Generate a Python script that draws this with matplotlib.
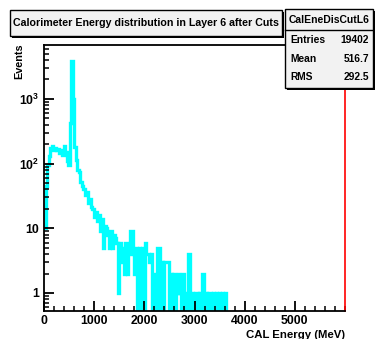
import numpy as np
import matplotlib
matplotlib.use("Agg")
import matplotlib.pyplot as plt
from matplotlib.patches import Rectangle
from matplotlib.ticker import FixedLocator, FuncFormatter, LogLocator, NullFormatter

plt.rcParams['font.family'] = ['Liberation Sans', 'DejaVu Sans']
plt.rcParams['font.weight'] = 'bold'
plt.rcParams['mathtext.fontset'] = 'custom'
plt.rcParams['mathtext.rm'] = 'Liberation Sans:bold'
plt.rcParams['mathtext.bf'] = 'Liberation Sans:bold'

# histogram: 200 bins of 30 MeV from 0 to 6000 MeV
bin_width = 30
counts = [
    10, 45, 95, 130, 175, 190, 165, 175, 160, 170,
    145, 165, 135, 190, 150, 110, 95, 420, 3800, 1000,
    180, 115, 80, 75, 52, 45, 40, 33, 36, 25,
    28, 21, 20, 15, 18, 13, 16, 9, 14, 5,
    11, 10, 8, 5, 9, 5, 8, 7, 6, 1,
    6, 3, 5, 2, 6, 2, 4, 9, 9, 4,
    2, 5, 0, 5, 0, 5, 0, 6, 4, 4,
    3, 4, 0, 2, 0, 5, 5, 0, 3, 0,
    3, 3, 3, 0, 2, 0, 2, 0, 1, 2,
    1, 0, 2, 0, 1, 0, 4, 0, 1, 0,
    1, 1, 0, 1, 0, 2, 0, 1, 0, 1,
    1, 0, 1, 0, 1, 0, 1, 0, 1, 0,
    1, 0,
]
n_bins = 200
counts = counts + [0] * (n_bins - len(counts))

hist_name = "CalEneDisCutL6"
title = "Calorimeter Energy distribution in Layer 6 after Cuts"
stats = [("Entries", "19402"), ("Mean", "516.7"), ("RMS", "292.5")]

W, H = 375, 339
fig = plt.figure(figsize=(W / 100, H / 100), dpi=100)
fig.patch.set_facecolor('white')


def fx(px):
    return px / W


def fy(py):
    return 1 - py / H


ax = fig.add_axes([fx(44), fy(311), fx(345) - fx(44), fy(45) - fy(311)])
ymin, ymax = 0.527, 6800
edges = np.arange(n_bins + 1) * bin_width
vals = np.array(counts, dtype=float)
vals = np.where(vals > 0, vals, ymin * 0.5)
ax.stairs(vals, edges, color='#00ffff', linewidth=2.4, baseline=None)
ax.set_yscale('log')
ax.set_xlim(0, 6000)
ax.set_ylim(ymin, ymax)

ax.xaxis.set_major_locator(FixedLocator([0, 1000, 2000, 3000, 4000, 5000]))
ax.xaxis.set_minor_locator(FixedLocator(np.arange(0, 6001, 200)))
ax.yaxis.set_major_locator(FixedLocator([1, 10, 100, 1000]))
ax.yaxis.set_minor_locator(LogLocator(base=10, subs=np.arange(2, 10)))
ax.yaxis.set_minor_formatter(NullFormatter())
ylab = {1: '1', 10: '10', 100: '$10^{2}$', 1000: '$10^{3}$'}
ax.yaxis.set_major_formatter(FuncFormatter(lambda v, p: ylab.get(int(round(v)), '')))
ax.tick_params(which='both', direction='in', top=False, right=False, labelsize=8.8)
ax.tick_params(which='major', length=7, width=1.3)
ax.tick_params(which='minor', length=3.5, width=1.1)
ax.tick_params(axis='x', pad=3)
for s in ['left', 'bottom', 'top']:
    ax.spines[s].set_linewidth(1.3)
ax.spines['right'].set_color('red')
ax.spines['right'].set_linewidth(1.2)

ax.set_xlabel("CAL Energy (MeV)", fontsize=8.2, fontweight='bold')
ax.xaxis.set_label_coords(1.0, -0.07)
ax.xaxis.label.set_ha('right')
fig.text(fx(19), fy(43), "Events", rotation=90, ha='center', va='top',
         fontsize=7.8, fontweight='bold')

# title box with shadow
fig.add_artist(Rectangle((fx(12), fy(38)), fx(272), fy(11) - fy(37),
                         transform=fig.transFigure, facecolor='black', edgecolor='none'))
fig.add_artist(Rectangle((fx(10), fy(36)), fx(272), fy(10) - fy(36),
                         transform=fig.transFigure, facecolor='#f2f2f2',
                         edgecolor='black', linewidth=1))
fig.text(fx(146), fy(23), title, ha='center', va='center', fontsize=7.7,
         fontweight='bold')

# stats box with shadow
fig.add_artist(Rectangle((fx(287), fy(90)), fx(88), fy(11) - fy(90),
                         transform=fig.transFigure, facecolor='black', edgecolor='none'))
fig.add_artist(Rectangle((fx(285), fy(88)), fx(88), fy(9) - fy(88),
                         transform=fig.transFigure, facecolor='#f2f2f2',
                         edgecolor='black', linewidth=1))
fig.add_artist(plt.Line2D([fx(285), fx(373)], [fy(30), fy(30)],
                          transform=fig.transFigure, color='black', linewidth=1))
fig.text(fx(329), fy(20), hist_name, ha='center', va='center', fontsize=7.5,
         fontweight='bold')
for k, (name, val) in enumerate(stats):
    yy = fy(40 + k * 18.5)
    fig.text(fx(290), yy, name, ha='left', va='center', fontsize=7.4, fontweight='bold')
    fig.text(fx(369), yy, val, ha='right', va='center', fontsize=7.4, fontweight='bold')

fig.savefig("out.png", dpi=100)
